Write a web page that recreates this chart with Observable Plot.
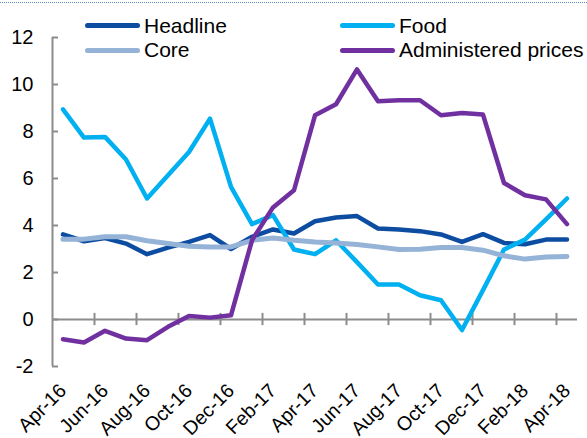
<!DOCTYPE html>
<html>
<head>
<meta charset="utf-8">
<script src="https://cdn.jsdelivr.net/npm/d3@7"></script>
<script src="https://cdn.jsdelivr.net/npm/@observablehq/plot@0.6"></script>
<style>
  html, body { margin: 0; padding: 0; background: #fff; }
  #wrap { position: relative; width: 587px; height: 438px; overflow: hidden; font-family: "Liberation Sans", Arial, sans-serif; }
  #topline { position: absolute; left: 0; right: 0; top: 2px; border-top: 1px dotted #5b8fd0; }
  .leg { position: absolute; display: flex; align-items: center; font-size: 21px; color: #000; white-space: nowrap; }
  .sw { width: 55px; height: 5px; border-radius: 3px; margin-right: 4px; }
</style>
</head>
<body>
<div id="wrap">
  <div id="chart"></div>
  <div id="topline"></div>
  <div id="legend"></div>
</div>
<script>
const months = ["Apr-16","May-16","Jun-16","Jul-16","Aug-16","Sep-16","Oct-16","Nov-16","Dec-16","Jan-17","Feb-17","Mar-17","Apr-17","May-17","Jun-17","Jul-17","Aug-17","Sep-17","Oct-17","Nov-17","Dec-17","Jan-18","Feb-18","Mar-18","Apr-18"];
const headline = [3.62,3.33,3.47,3.23,2.78,3.06,3.30,3.59,3.00,3.52,3.83,3.66,4.18,4.34,4.40,3.87,3.83,3.76,3.62,3.30,3.63,3.26,3.20,3.40,3.40];
const food = [8.94,7.74,7.77,6.81,5.15,6.14,7.13,8.55,5.64,4.06,4.44,2.98,2.78,3.37,2.44,1.49,1.49,1.03,0.82,-0.45,1.25,2.98,3.40,4.26,5.15];
const core = [3.42,3.42,3.52,3.52,3.35,3.23,3.12,3.09,3.09,3.37,3.47,3.37,3.30,3.26,3.19,3.09,2.98,2.99,3.06,3.06,2.95,2.71,2.57,2.66,2.68];
const administered = [-0.84,-0.98,-0.48,-0.81,-0.88,-0.31,0.15,0.08,0.18,3.37,4.77,5.50,8.69,9.16,10.64,9.29,9.33,9.33,8.69,8.79,8.72,5.81,5.29,5.11,4.06];
const seriesNames = ["Headline","Food","Core","Administered prices"];
const seriesColors = ["#0c4da2","#00b0f0","#95b3d7","#7030a0"];
const seriesWidths = [4.5,4.5,5,4.5];
const yTicks = [-2,0,2,4,6,8,10,12];
const labelEvery = 2;

const allSeries = [headline, food, core, administered];
const tickLabels = months.map((m, i) => ({i, m})).filter(d => d.i % labelEvery === 0);
const xTickPos = d3.range(labelEvery - 0.5, months.length - 1, labelEvery);
const gray = "#8c8c8c";

const lineMarks = allSeries.map((vals, s) =>
  Plot.line(vals.map((v, i) => ({i, v})), {
    x: "i", y: "v", stroke: seriesColors[s], strokeWidth: seriesWidths[s],
    strokeLinejoin: "round", strokeLinecap: "round"
  })
);

const chart = Plot.plot({
  width: 587, height: 438,
  marginLeft: 52, marginRight: 10, marginTop: 37, marginBottom: 72,
  style: {fontFamily: "'Liberation Sans', Arial, sans-serif", fontSize: "20px", color: "#000", background: "#fff"},
  x: {domain: [-0.5, months.length - 0.5], axis: null},
  y: {domain: [-2, 12], axis: null},
  marks: [
    Plot.ruleX([-0.5], {y1: -2, y2: 12, stroke: gray, strokeWidth: 2}),
    Plot.ruleY(yTicks, {y: d => d, x1: -0.5, x2: -0.5 + 6 / 21, stroke: gray, strokeWidth: 2}),
    Plot.ruleY([0], {x1: -0.5, x2: months.length - 0.5, stroke: gray, strokeWidth: 2}),
    Plot.ruleX(xTickPos, {x: d => d, y1: -0.26, y2: 0.26, stroke: gray, strokeWidth: 2}),
    Plot.text(yTicks, {x: -0.5, y: d => d, text: d => String(d), textAnchor: "end", dx: -19, fontSize: 20, fill: "#000"}),
    Plot.text(tickLabels, {x: "i", y: -2, text: "m", rotate: -45, textAnchor: "end", dx: 0, dy: 21, fontSize: 19.5, fill: "#000"}),
    ...lineMarks
  ]
});
document.getElementById("chart").appendChild(chart);

const legendPos = [
  {left: 85, top: 25.5}, {left: 340, top: 25.5},
  {left: 85, top: 50}, {left: 340, top: 50}
];
const legend = document.getElementById("legend");
seriesNames.forEach((name, s) => {
  const item = document.createElement("div");
  item.className = "leg";
  item.style.left = legendPos[s].left + "px";
  item.style.top = (legendPos[s].top - 13) + "px";
  item.style.height = "26px";
  const sw = document.createElement("div");
  sw.className = "sw";
  sw.style.background = seriesColors[s];
  const tx = document.createElement("span");
  tx.textContent = name;
  item.appendChild(sw);
  item.appendChild(tx);
  legend.appendChild(item);
});
legend.style.position = "absolute";
legend.style.left = "0"; legend.style.top = "0";
</script>
</body>
</html>
